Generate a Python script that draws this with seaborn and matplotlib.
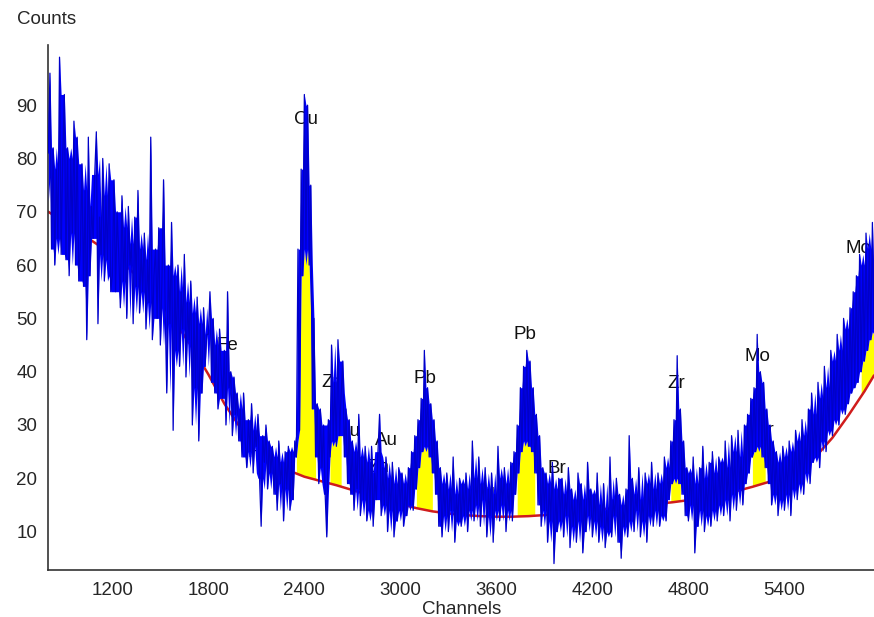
import numpy as np
import pandas as pd
import matplotlib
matplotlib.use("Agg")
import matplotlib.pyplot as plt
import seaborn as sns
from matplotlib.ticker import FixedLocator

# spectrum, one value every 10 channels (800 .. 5960)
channels = np.arange(800, 5961, 10)
counts = [
    81, 96, 63, 82, 60, 78, 65, 99, 62, 80, 92, 61, 82, 58, 80, 66, 87, 60, 84, 57,
    63, 79, 56, 74, 46, 84, 58, 71, 65, 77, 85, 49, 69, 62, 80, 57, 73, 61, 79, 55,
    58, 76, 55, 70, 62, 52, 73, 57, 67, 50, 71, 60, 64, 49, 69, 56, 74, 51, 63, 55,
    66, 48, 61, 53, 84, 46, 58, 63, 50, 67, 45, 57, 76, 52, 36, 60, 49, 68, 29, 58,
    44, 60, 41, 55, 48, 62, 39, 53, 46, 57, 30, 51, 37, 54, 27, 49, 36, 52, 41, 47,
    47, 55, 38, 50, 36, 45, 33, 48, 40, 35, 44, 30, 55, 37, 40, 28, 39, 32, 36, 27,
    33, 24, 36, 27, 22, 31, 25, 34, 21, 29, 26, 32, 20, 11, 28, 23, 30, 18, 27, 21,
    26, 17, 24, 14, 27, 19, 23, 12, 25, 18, 26, 14, 25, 16, 27, 24, 63, 29, 78, 58,
    92, 63, 90, 60, 75, 33, 50, 24, 34, 19, 33, 22, 30, 17, 9, 31, 24, 45, 27, 38,
    26, 46, 28, 36, 42, 24, 33, 19, 31, 17, 27, 14, 25, 18, 32, 13, 24, 16, 26, 12,
    23, 14, 26, 11, 21, 16, 25, 32, 13, 22, 15, 24, 10, 20, 14, 23, 9, 19, 12, 22,
    14, 21, 11, 19, 13, 22, 15, 25, 14, 28, 18, 31, 22, 35, 25, 44, 26, 37, 24, 34,
    21, 31, 17, 27, 11, 22, 9, 19, 13, 21, 10, 18, 14, 24, 8, 17, 12, 20, 11, 19,
    13, 21, 10, 18, 14, 27, 12, 20, 15, 24, 11, 19, 16, 22, 9, 18, 13, 21, 8, 17,
    14, 26, 12, 20, 15, 22, 10, 19, 14, 23, 12, 25, 17, 30, 21, 37, 25, 41, 27, 44,
    26, 42, 25, 37, 21, 32, 15, 28, 11, 22, 14, 21, 8, 19, 12, 23, 4, 18, 10, 20,
    12, 20, 9, 17, 13, 22, 7, 18, 11, 16, 8, 21, 12, 19, 6, 16, 10, 23, 13, 18,
    9, 17, 12, 21, 8, 15, 11, 19, 7, 14, 10, 24, 9, 16, 13, 20, 8, 17, 5, 15,
    11, 18, 9, 28, 12, 20, 10, 17, 14, 22, 9, 16, 12, 21, 8, 19, 13, 23, 11, 18,
    14, 21, 11, 19, 13, 24, 12, 22, 16, 27, 19, 31, 20, 43, 19, 33, 17, 27, 13, 22,
    12, 21, 15, 24, 6, 19, 11, 22, 14, 26, 10, 20, 13, 23, 11, 25, 14, 21, 12, 24,
    15, 23, 13, 27, 16, 22, 12, 28, 17, 25, 14, 29, 18, 24, 15, 30, 19, 32, 21, 35,
    24, 37, 25, 47, 26, 40, 24, 38, 22, 33, 19, 30, 15, 27, 17, 25, 13, 23, 16, 26,
    14, 24, 17, 27, 13, 25, 18, 29, 16, 27, 19, 31, 17, 28, 21, 33, 19, 36, 23, 32,
    24, 38, 22, 35, 27, 41, 25, 37, 29, 44, 28, 42, 31, 47, 30, 44, 33, 50, 32, 48,
    34, 52, 36, 55, 37, 58, 38, 62, 40, 60, 42, 66, 44, 63, 46, 68, 48,
]
assert len(counts) == len(channels)

# fitted background (red curve), every 100 channels
bg_channels = list(range(800, 5901, 100)) + [5960]
background = [
    70, 68, 66, 64, 62, 59.5, 56.5, 53, 49, 44.5, 39.5, 34,
    29.5, 26.5, 24, 21.5, 20.3, 19.5, 18.7, 17.8, 16.9, 16,
    15.2, 14.4, 13.8, 13.4, 13.1, 12.9, 12.8, 12.8, 12.9, 13.1,
    13.4, 13.7, 14, 14.3, 14.6, 14.9, 15.2, 15.5, 15.9, 16.4,
    17, 17.6, 18.4, 19.3, 20.4, 22, 24.2, 27.6, 31.8, 36.3, 39.3,
]

# peak regions shaded yellow
roi_start = [2350, 2560, 3100, 3730, 4690, 5200, 5880]
roi_end = [2470, 2630, 3200, 3840, 4750, 5280, 5960]

# element labels
peak_names = ["Cu", "Fe", "Fe", "Zn", "Cu", "Au", "Zn", "Pb", "Au", "Pb",
              "Br", "Zr", "Mo", "Zr", "Mo"]
peak_channels = [2411, 1917, 2111, 2573, 2673, 2911, 2861, 3155, 3523, 3779,
                 3979, 4723, 5229, 5279, 5860]
peak_counts = [87.4, 45, 24.8, 37.9, 28.7, 27, 22.1, 38.8, 17.3, 46.9,
               21.8, 37.7, 42.8, 28.9, 63.2]

sns.set_style("white")
plt.rcParams["font.family"] = ["Liberation Sans", "DejaVu Sans"]

fig = plt.figure(figsize=(8.74, 6.17), dpi=100)
ax = fig.add_axes([0.0553, 0.0762, 0.9447, 0.851])

spec = pd.DataFrame({"Channel": channels, "Counts": counts})
roll = spec["Counts"].rolling(5, center=True, min_periods=1)
spec["Lower"] = np.minimum(spec["Counts"], roll.quantile(0.25))
spec["Upper"] = np.maximum(spec["Counts"], roll.quantile(0.75))
bg_df = pd.DataFrame({"Channel": bg_channels, "Background": background})

# yellow peak areas between background and the lower edge of the noise
for s, e in zip(roi_start, roi_end):
    part = spec[(spec["Channel"] >= s) & (spec["Channel"] <= e)]
    base = np.interp(part["Channel"], bg_channels, background)
    ax.fill_between(part["Channel"], base, np.maximum(part["Lower"], base),
                    color="#ffff00", lw=0, zorder=1)

sns.lineplot(data=bg_df, x="Channel", y="Background", color="#d01c1c",
             lw=1.8, ax=ax, zorder=2)

for name, x, y in zip(peak_names, peak_channels, peak_counts):
    ax.text(x, y, name, ha="center", va="center", fontsize=13.5,
            color="#111111", zorder=2.5)

# the noise band: solid between the lower and upper edges, then the trace
ax.fill_between(spec["Channel"], spec["Lower"], spec["Upper"],
                color="#0000ff", lw=0, zorder=3)
sns.lineplot(data=spec, x="Channel", y="Counts", color="#0000c8", lw=0.9,
             ax=ax, zorder=3.5, estimator=None, sort=False)

ax.set_xlim(800, 5960)
ax.set_ylim(2.8, 101.3)

ax.set_xticks(range(1200, 5401, 600))
ax.xaxis.set_minor_locator(FixedLocator([c for c in range(1300, 5400, 100) if c % 600]))
ax.set_yticks(range(10, 91, 10))
ax.yaxis.set_minor_locator(FixedLocator([c for c in range(12, 90, 2) if c % 10]))

ax.tick_params(axis="x", which="major", direction="in", length=5.5, width=1,
               pad=9, labelsize=13.5, color="#444444")
ax.tick_params(axis="x", which="minor", direction="in", length=3, width=1,
               color="#444444")
ax.tick_params(axis="y", which="major", direction="in", length=6.5, width=1,
               pad=8, labelsize=13.5, color="#444444")
ax.tick_params(axis="y", which="minor", direction="in", length=3.5, width=1,
               color="#444444")

for side in ["top", "right"]:
    ax.spines[side].set_visible(False)
for side in ["left", "bottom"]:
    ax.spines[side].set_color("#333333")
    ax.spines[side].set_linewidth(1.2)

ax.set_xlabel("Channels", fontsize=13.5, labelpad=1)
ax.set_ylabel("")
fig.text(17 / 874, 1 - 19 / 617, "Counts", ha="left", va="center", fontsize=13.5)

fig.savefig("out.png", dpi=100)
